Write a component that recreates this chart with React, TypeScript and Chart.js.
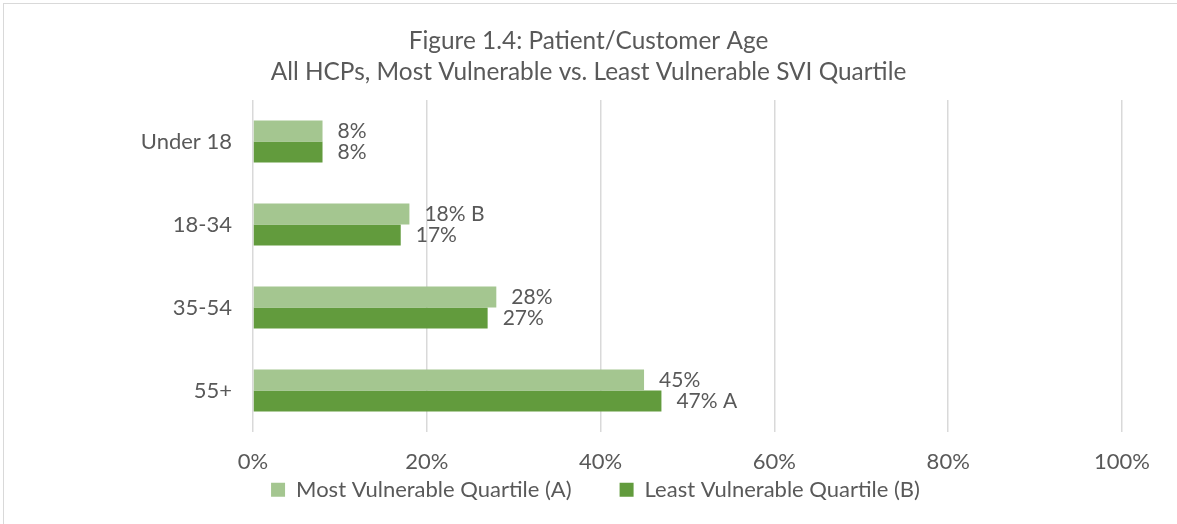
import React, { useEffect, useRef } from "react";
import { Chart, registerables } from "chart.js";

Chart.register(...registerables);

const titleLines = [
  "Figure 1.4: Patient/Customer Age",
  "All HCPs, Most Vulnerable vs. Least Vulnerable SVI Quartile",
];
const categories = ["Under 18", "18-34", "35-54", "55+"];
const seriesNames = ["Most Vulnerable Quartile (A)", "Least Vulnerable Quartile (B)"];
const mostVulnerable = [8, 18, 28, 45];
const leastVulnerable = [8, 17, 27, 47];
const mostVulnerableSig = ["", "B", "", ""];
const leastVulnerableSig = ["", "", "", "A"];
const xTickValues = [0, 20, 40, 60, 80, 100];

const FONT = "Lato";
const TEXT = "#595959";
const LIGHT = "#A4C690";
const DARK = "#629B3D";

const sigLetters = [mostVulnerableSig, leastVulnerableSig];

const LEGEND_PAD = 48;
const LEGEND_FONT = 22;
const LEGEND_CENTER_Y = 492;

const barLabelPlugin = {
  id: "barLabels",
  afterDatasetsDraw(chart: any) {
    const ctx = chart.ctx;
    ctx.save();
    ctx.font = `21px ${FONT}`;
    ctx.fillStyle = TEXT;
    ctx.textBaseline = "middle";
    ctx.textAlign = "left";
    chart.data.datasets.forEach((ds: any, di: number) => {
      const meta = chart.getDatasetMeta(di);
      meta.data.forEach((el: any, i: number) => {
        const sig = sigLetters[di][i];
        const txt = `${ds.data[i]}%${sig ? " " + sig : ""}`;
        ctx.fillText(txt, el.x + 15, el.y);
      });
    });
    ctx.restore();
  },
};

// centre title and legend on the whole canvas; put the legend row below the x tick labels
const placementPlugin = {
  id: "placement",
  afterLayout(chart: any) {
    const tb = chart.titleBlock;
    if (tb) {
      tb.left = 0;
      tb.right = chart.width;
      tb.width = chart.width;
    }
    const lg = chart.legend;
    if (lg) {
      const itemH = LEGEND_FONT * 1.2;
      lg.left = 14;
      lg.right = chart.width;
      lg.width = lg.right - lg.left;
      lg.top = LEGEND_CENTER_Y - LEGEND_PAD - itemH / 2;
      lg.bottom = chart.height;
      lg.height = lg.bottom - lg.top;
    }
  },
};

export default function App() {
  const ref = useRef<HTMLCanvasElement | null>(null);

  useEffect(() => {
    if (!ref.current) return;
    const chart = new Chart(ref.current, {
      type: "bar",
      data: {
        labels: categories,
        datasets: [
          {
            label: seriesNames[0],
            data: mostVulnerable,
            backgroundColor: LIGHT,
            borderWidth: 0,
            categoryPercentage: 0.505,
            barPercentage: 1,
          },
          {
            label: seriesNames[1],
            data: leastVulnerable,
            backgroundColor: DARK,
            borderWidth: 0,
            categoryPercentage: 0.505,
            barPercentage: 1,
          },
        ],
      },
      options: {
        indexAxis: "y",
        responsive: false,
        animation: false,
        layout: { padding: { left: 0, right: 55, top: 0, bottom: 0 } },
        scales: {
          x: {
            min: 0,
            max: 100,
            afterBuildTicks: (axis: any) => {
              axis.ticks = xTickValues.map((v) => ({ value: v }));
            },
            afterFit: (axis: any) => {
              axis.height = 45;
            },
            border: { display: false },
            grid: { color: "#D9D9D9", lineWidth: 1.5, drawTicks: false },
            ticks: {
              padding: 17,
              color: TEXT,
              font: { family: FONT, size: 22 },
              maxRotation: 0,
              callback: (v: any) => `${v}%`,
            },
          },
          y: {
            afterFit: (axis: any) => {
              axis.width = 253;
            },
            border: { display: false },
            grid: { display: false, drawTicks: false },
            ticks: {
              padding: 21,
              color: TEXT,
              font: { family: FONT, size: 22 },
            },
          },
        },
        plugins: {
          title: {
            display: true,
            text: titleLines,
            color: TEXT,
            font: { family: FONT, size: 24.4, weight: "normal", lineHeight: 1.27 },
            padding: { top: 26, bottom: 12 },
          },
          legend: {
            position: "bottom",
            maxHeight: 47,
            labels: {
              color: TEXT,
              font: { family: FONT, size: LEGEND_FONT },
              boxWidth: 14,
              boxHeight: 14,
              padding: LEGEND_PAD,
            },
          },
          tooltip: { enabled: false },
        },
      },
      plugins: [barLabelPlugin, placementPlugin],
    });
    return () => chart.destroy();
  }, []);

  return (
    <div
      style={{
        position: "fixed",
        left: 0,
        top: 0,
        width: 1177,
        height: 524,
        background: "#fff",
        overflow: "hidden",
      }}
    >
      <div
        style={{
          position: "absolute",
          left: 3,
          top: 3,
          width: 1190,
          height: 540,
          border: "1px solid #D9D9D9",
          boxSizing: "border-box",
        }}
      />
      <canvas
        ref={ref}
        width={1177}
        height={524}
        style={{ position: "absolute", left: 0, top: 0 }}
      />
    </div>
  );
}
